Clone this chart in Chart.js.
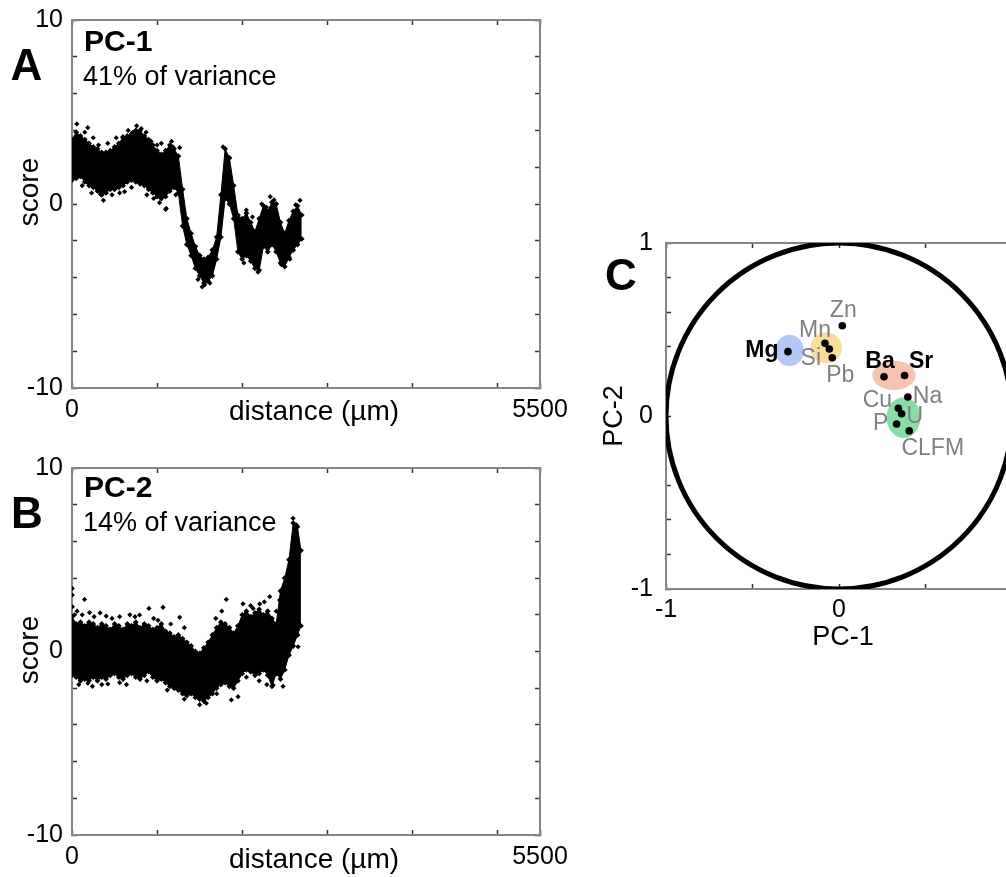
<!DOCTYPE html>
<html>
<head>
<meta charset="utf-8">
<script src="https://cdn.jsdelivr.net/npm/chart.js@4.4.1/dist/chart.umd.min.js"></script>
<style>
  html, body { margin: 0; padding: 0; background: #fff; overflow: hidden; }
  #wrap { position: relative; width: 1006px; height: 877px; overflow: hidden; }
  canvas { position: absolute; }
</style>
</head>
<body>
<div id="wrap">
  <canvas id="panelA" width="600" height="440" style="left:0;top:0"></canvas>
  <canvas id="panelB" width="600" height="437" style="left:0;top:440px"></canvas>
  <canvas id="panelC" width="440" height="460" style="left:600px;top:200px"></canvas>
</div>
<script>
// ---------- PC-1 score profile (distance in µm, score) ----------
const pc1Dist = [0, 50, 100, 150, 200, 250, 300, 350, 400, 450, 500, 550, 600, 650, 700, 750, 800, 850, 900, 950,
  1000, 1050, 1100, 1150, 1200, 1250, 1300, 1350, 1400, 1450, 1500, 1550, 1600, 1650, 1700, 1750, 1800, 1850, 1900, 1950,
  2000, 2050, 2100, 2150, 2200, 2250, 2300, 2350, 2400, 2450, 2500, 2550, 2600, 2650, 2700];
const pc1Upper = [3.5, 3.9, 3.7, 3.5, 3.3, 3.1, 3.0, 2.8, 2.8, 2.9, 3.1, 3.3, 3.6, 3.7, 3.8, 4.0, 4.0, 3.7, 3.5, 3.2,
  2.9, 2.7, 2.9, 3.2, 3.0, 2.6, 0.8, -0.8, -1.6, -2.3, -2.8, -3.0, -2.9, -2.5, -1.8, 0.5, 3.0, 2.5, 1.0, -0.6,
  -0.8, -0.5, -1.0, -1.5, -0.8, -0.1, -0.4, 0.1, 0.0, -1.0, -1.6, -0.9, -0.4, -0.1, -0.6];
const pc1Lower = [1.3, 1.4, 1.5, 1.2, 1.0, 0.9, 0.7, 0.5, 0.6, 0.8, 0.8, 0.9, 1.0, 1.2, 1.3, 1.2, 1.1, 1.0, 0.8, 0.6,
  0.4, 0.3, 0.4, 0.7, 0.9, 0.6, -1.2, -2.2, -2.8, -3.5, -3.9, -4.3, -4.2, -3.9, -3.0, -1.8, 0.3, 0.0, -0.8, -2.6,
  -3.0, -2.8, -3.1, -3.5, -3.6, -2.3, -2.6, -2.2, -2.6, -3.2, -3.4, -2.9, -2.5, -2.2, -1.9];
const pc1StrayDist  = [57, 186, 312, 598, 715, 814, 931, 1186, 1265, 335, 618, 1029, 1100, 1108, 1775, 2049, 2285, 2375, 2629, 1559, 2186, 2461,
  150, 250, 420, 520, 660, 760, 870, 1000, 1050, 1170, 120, 230, 370, 470, 560, 700, 880, 960, 1220,
  1480, 1530, 1620, 2020, 2120, 2230, 2330, 2560, 2680];
const pc1StrayScore = [4.35, 4.15, 3.2, 3.66, 3.9, 4.1, 3.4, 3.1, 3.06, 0.53, 0.67, 0.07, -0.29, -0.24, 3.1, -0.33, -0.18, 0.22, -0.05, -4.4, -3.7, -3.3,
  3.9, 3.6, 3.3, 3.6, 4.0, 4.25, 3.9, 3.2, 3.3, 3.4, 1.0, 0.6, 0.2, 0.5, 0.6, 0.9, 0.5, 0.3, 0.5,
  -4.1, -4.5, -4.3, -3.2, -0.7, 0.0, 0.4, -3.0, 0.2];

// ---------- PC-2 score profile ----------
const pc2Dist = [0, 50, 100, 150, 200, 250, 300, 350, 400, 450, 500, 550, 600, 650, 700, 750, 800, 850, 900, 950,
  1000, 1050, 1100, 1150, 1200, 1250, 1300, 1350, 1400, 1450, 1500, 1550, 1600, 1650, 1700, 1750, 1800, 1850, 1900, 1950,
  2000, 2050, 2100, 2150, 2200, 2250, 2300, 2350, 2400, 2450, 2500, 2550, 2600, 2650, 2690];
const pc2Upper = [1.9, 1.5, 1.6, 1.4, 1.6, 1.5, 1.3, 1.5, 1.4, 1.2, 1.5, 1.4, 1.2, 1.5, 1.4, 1.6, 1.3, 1.5, 1.4, 1.2,
  1.3, 1.5, 1.1, 1.0, 0.8, 0.9, 0.7, 0.5, 0.3, 0.0, -0.1, 0.2, 0.5, 0.9, 1.3, 1.6, 1.5, 1.3, 1.0, 1.4,
  2.0, 2.2, 1.9, 2.1, 2.3, 2.0, 2.2, 1.8, 1.5, 3.3, 4.0, 5.0, 7.0, 6.8, 5.5];
const pc2Lower = [-1.3, -1.4, -1.6, -1.5, -1.6, -1.4, -1.6, -1.4, -1.5, -1.3, -1.2, -1.4, -1.5, -1.3, -1.2, -1.4, -1.5, -1.3, -1.1, -1.4,
  -1.6, -1.5, -1.7, -1.9, -2.0, -2.1, -2.3, -2.4, -2.3, -2.5, -2.6, -2.7, -2.5, -2.3, -2.0, -1.8, -1.7, -1.9, -2.0, -1.6,
  -1.2, -1.0, -1.1, -1.3, -1.2, -1.0, -1.3, -1.9, -1.2, -1.5, -1.0, -0.2, 0.3, 0.9, 1.4];
const pc2StrayDist  = [2, 4, 5, 147, 206, 402, 794, 904, 1069, 1265, 1814, 2128, 2206, 2324, 186, 421, 1206, 1578, 1873, 1951, 2363, 2598, 2637, 2657,
  30, 60, 120, 260, 330, 470, 560, 680, 740, 960, 1010, 1160, 1320, 1690, 1760, 2010, 2100, 2260, 2400, 2440,
  80, 240, 350, 560, 640, 880, 1120, 1320, 1500, 1700, 2050, 2200, 2290, 2480];
const pc2StrayScore = [3.44, 3.08, 2.44, 2.84, 2.12, 1.93, 1.99, 2.35, 2.41, 1.86, 2.84, 2.35, 2.59, 2.99, -1.73, -1.77, -2.0, -2.82, -2.64, -2.46, -1.83, 7.26, 6.9, 0.26,
  2.0, 2.2, 2.0, 1.9, 2.1, 1.8, 1.9, 2.0, 1.9, 1.8, 1.7, 1.5, 1.3, 1.8, 2.2, 2.6, 2.5, 2.7, 2.2, 2.8,
  -1.8, -1.9, -1.8, -1.7, -1.8, -1.6, -2.1, -2.6, -2.9, -2.3, -1.4, -1.6, -1.8, -1.9];

// ---------- Loadings on PC-1 / PC-2 ----------
const elements   = ['Mg', 'Mn', 'Si', 'Pb', 'Zn', 'Ba', 'Sr', 'Na', 'Cu', 'U', 'P', 'CLFM'];
const pc1Loading = [-0.295, -0.081, -0.056, -0.039, 0.019, 0.260, 0.379, 0.398, 0.343, 0.362, 0.333, 0.406];
const pc2Loading = [0.372, 0.420, 0.387, 0.337, 0.522, 0.227, 0.234, 0.110, 0.045, 0.013, -0.046, -0.086];
const boldElements = ['Mg', 'Ba', 'Sr'];

// element groupings shaded behind the loadings
const groupCentreX = [-0.286, -0.074, 0.318, 0.373];
const groupCentreY = [0.379, 0.394, 0.235, -0.009];
const groupRadiusX = [0.083, 0.091, 0.125, 0.098];
const groupRadiusY = [0.090, 0.090, 0.085, 0.118];

// tick positions
const distTicks = [0, 1000, 2000, 3000, 4000, 5000, 5500];
const distLabels = [0, 5500];
const scoreTicks = [-10, -8, -6, -4, -2, 0, 2, 4, 6, 8, 10];
const scoreLabels = [-10, 0, 10];
const loadXTicks = [-1, -0.5, 0, 0.5, 1];
const loadYTicks = [-1, -0.8, -0.6, -0.4, -0.2, 0, 0.2, 0.4, 0.6, 0.8, 1];
const loadLabels = [-1, 0, 1];

// ---------- styling ----------
const FONT = "'Liberation Sans', Arial, Helvetica, sans-serif";
const groupColours = ['#b4c7f6', '#f9dd9d', '#f7c4af', '#89dea8'];
// label offsets (px) from each loading marker
const labelDX = [-26, -10, -18.5, 8, 1, -4, 16.5, 19.7, -21, 13.3, -16, 23.5];
const labelDY = [-1, -13, 9.3, 18, -15, -15, -14, 0, -7.5, 3, -0.5, 17.7];

Chart.defaults.font.family = FONT;
Chart.defaults.animation = false;

const pairs = (xs, ys) => xs.map((x, i) => ({ x, y: ys[i] }));

function axis(position, min, max, tickVals, labelled, pad, size) {
  return {
    type: 'linear', position, min, max,
    afterBuildTicks: s => { s.ticks = tickVals.map(v => ({ value: v })); },
    afterFit: s => {
      if (s.isHorizontal()) s.height = size; else s.width = size;
      // keep the plot box where the layout padding puts it
      s.paddingTop = s.paddingBottom = s.paddingLeft = s.paddingRight = 0;
    },
    border: { display: true, color: '#858585', width: 2 },
    grid: { display: true, drawOnChartArea: false, drawTicks: true, tickLength: -5, tickColor: '#333', tickWidth: 1.5 },
    ticks: {
      display: !!labelled, padding: pad, color: '#000', maxRotation: 0, autoSkip: false,
      font: { family: FONT, size: 25 },
      callback: v => (labelled && labelled.includes(v)) ? String(v) : ''
    }
  };
}

function textPlugin(items) {
  return {
    id: 'panelText',
    afterDraw(chart) {
      const { ctx, chartArea: a } = chart;
      items.forEach(t => {
        ctx.save();
        ctx.font = t.font;
        ctx.fillStyle = '#000';
        ctx.textAlign = t.align || 'center';
        ctx.textBaseline = 'middle';
        ctx.translate(a.left + t.dx, a.top + t.dy);
        if (t.rotate) ctx.rotate(t.rotate);
        ctx.fillText(t.text, 0, 0);
        ctx.restore();
      });
    }
  };
}

const bandStyle = {
  type: 'line', showLine: true, borderColor: '#000', borderWidth: 1, backgroundColor: '#000', tension: 0,
  pointStyle: 'rectRot', pointRadius: 2.9, pointBackgroundColor: '#000', pointBorderColor: '#000', pointBorderWidth: 0
};

function scoreChart(id, dist, upper, lower, strayD, strayS, pad, texts) {
  return new Chart(document.getElementById(id), {
    type: 'line',
    data: {
      datasets: [
        { ...bandStyle, data: pairs(dist, upper), fill: '+1' },
        { ...bandStyle, data: pairs(dist, lower), fill: false },
        { ...bandStyle, data: pairs(strayD, strayS), showLine: false, fill: false, pointRadius: 2.6 }
      ]
    },
    options: {
      responsive: false, animation: false,
      layout: { padding: pad },
      plugins: { legend: { display: false }, tooltip: { enabled: false } },
      scales: {
        x: axis('bottom', 0, 5500, distTicks, distLabels, 12, 40),
        x2: axis('top', 0, 5500, distTicks, null, 0, 0),
        y: axis('left', -10, 10, scoreTicks, scoreLabels, 14, 72),
        y2: axis('right', -10, 10, scoreTicks, null, 0, 0)
      }
    },
    plugins: [textPlugin(texts)]
  });
}

scoreChart('panelA', pc1Dist, pc1Upper, pc1Lower, pc1StrayDist, pc1StrayScore,
  { left: 0, top: 20, right: 60, bottom: 12 }, [
    { text: 'A', font: `bold 44px ${FONT}`, dx: -45.5, dy: 48 },
    { text: 'PC-1', font: `bold 30px ${FONT}`, align: 'left', dx: 12, dy: 23 },
    { text: '41% of variance', font: `27px ${FONT}`, align: 'left', dx: 11, dy: 57.5 },
    { text: 'score', font: `28px ${FONT}`, rotate: -Math.PI / 2, dx: -42, dy: 172 },
    { text: 'distance (µm)', font: `28px ${FONT}`, dx: 242, dy: 392 }
  ]);

scoreChart('panelB', pc2Dist, pc2Upper, pc2Lower, pc2StrayDist, pc2StrayScore,
  { left: 0, top: 28, right: 60, bottom: 2 }, [
    { text: 'B', font: `bold 44px ${FONT}`, dx: -45, dy: 48 },
    { text: 'PC-2', font: `bold 30px ${FONT}`, align: 'left', dx: 12, dy: 20.5 },
    { text: '14% of variance', font: `27px ${FONT}`, align: 'left', dx: 11, dy: 56 },
    { text: 'score', font: `28px ${FONT}`, rotate: -Math.PI / 2, dx: -42, dy: 182 },
    { text: 'distance (µm)', font: `28px ${FONT}`, dx: 242, dy: 392 }
  ]);

// unit circle and group shading, drawn from the scales
const loadingDecor = {
  id: 'loadingDecor',
  beforeDatasetsDraw(chart) {
    const { ctx, chartArea: a, scales: { x, y } } = chart;
    ctx.save();
    ctx.beginPath();
    ctx.rect(a.left, a.top, a.right - a.left, a.bottom - a.top);
    ctx.clip();
    groupCentreX.forEach((cx, i) => {
      const px = x.getPixelForValue(cx), py = y.getPixelForValue(groupCentreY[i]);
      const rx = Math.abs(x.getPixelForValue(cx + groupRadiusX[i]) - px);
      const ry = Math.abs(y.getPixelForValue(groupCentreY[i] + groupRadiusY[i]) - py);
      ctx.beginPath();
      ctx.ellipse(px, py, rx, ry, 0, 0, Math.PI * 2);
      ctx.fillStyle = groupColours[i];
      ctx.fill();
    });
    const ox = x.getPixelForValue(0), oy = y.getPixelForValue(0);
    const r = x.getPixelForValue(1) - ox;
    ctx.beginPath();
    ctx.arc(ox, oy, r, 0, Math.PI * 2);
    ctx.lineWidth = 5;
    ctx.strokeStyle = '#000';
    ctx.stroke();
    ctx.restore();
  },
  afterDatasetsDraw(chart) {
    const { ctx, scales: { x, y } } = chart;
    ctx.save();
    ctx.textAlign = 'center';
    ctx.textBaseline = 'middle';
    elements.forEach((el, i) => {
      const bold = boldElements.includes(el);
      ctx.font = `${bold ? 'bold ' : ''}23px ${FONT}`;
      ctx.fillStyle = bold ? '#000' : '#808080';
      ctx.fillText(el, x.getPixelForValue(pc1Loading[i]) + labelDX[i], y.getPixelForValue(pc2Loading[i]) + labelDY[i]);
    });
    ctx.restore();
  }
};

new Chart(document.getElementById('panelC'), {
  type: 'scatter',
  data: {
    datasets: [{
      data: pairs(pc1Loading, pc2Loading),
      pointStyle: 'circle', pointRadius: 3.8, pointBackgroundColor: '#000', pointBorderWidth: 0
    }]
  },
  options: {
    responsive: false, animation: false,
    layout: { padding: { left: 0, top: 43, right: 28, bottom: 31 } },
    plugins: { legend: { display: false }, tooltip: { enabled: false } },
    scales: {
      x: axis('bottom', -1, 1, loadXTicks, loadLabels, 11, 40),
      x2: axis('top', -1, 1, loadXTicks, null, 0, 0),
      y: axis('left', -1, 1, loadYTicks, loadLabels, 18, 66),
      y2: axis('right', -1, 1, loadYTicks, null, 0, 0)
    }
  },
  plugins: [loadingDecor, textPlugin([
    { text: 'C', font: `bold 44px ${FONT}`, dx: -45, dy: 35 },
    { text: 'PC-2', font: `27px ${FONT}`, rotate: -Math.PI / 2, dx: -51, dy: 173 },
    { text: 'PC-1', font: `27px ${FONT}`, dx: 177, dy: 395 }
  ])]
});
</script>
</body>
</html>
